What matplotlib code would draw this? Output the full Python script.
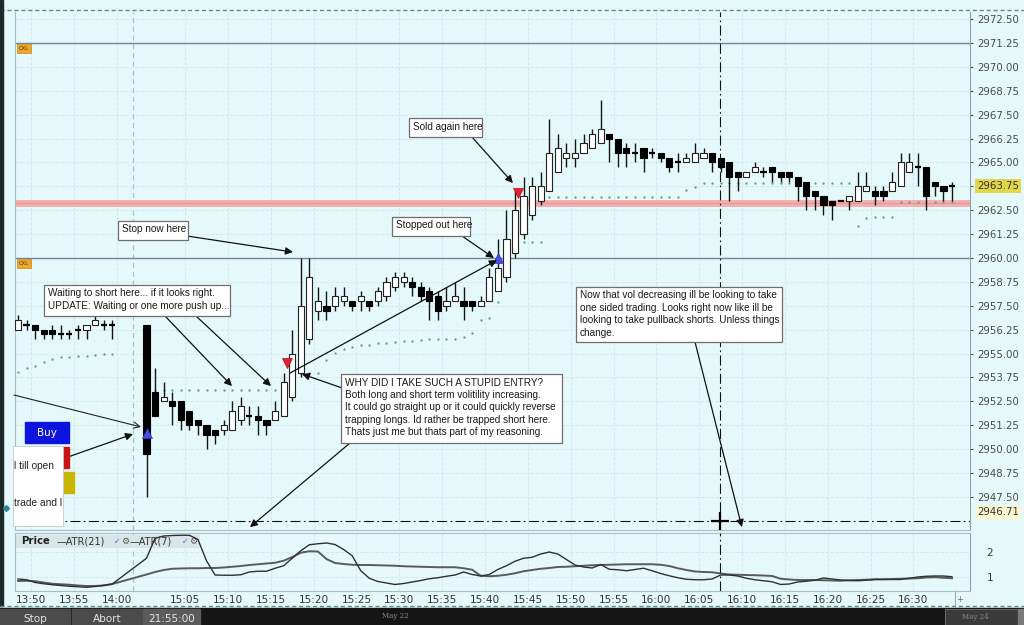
import matplotlib
matplotlib.use("Agg")
import matplotlib.pyplot as plt
from matplotlib.patches import Rectangle
from matplotlib.transforms import blended_transform_factory
import numpy as np

W, H = 1024, 625
BG = "#e5f9fb"
GRID = "#d0e7ea"

# ------------------------------------------------------------------ data
EARLY_TIMES = [f"13:{m:02d}" for m in range(48, 60)]
LATE_TIMES = [f"{15 + m // 60}:{m % 60:02d}" for m in range(95)]
BAR_TIMES = EARLY_TIMES + LATE_TIMES

OPEN = [
    2956.25, 2956.5, 2956.5, 2956.25, 2956.25, 2956.0, 2956.0, 2956.25, 2956.25, 2956.5, 2956.5, 2956.5,
    2956.5, 2953.0, 2952.5, 2952.5, 2952.5, 2952.0, 2951.5, 2951.25, 2951.0, 2951.0,
    2951.0, 2951.5, 2951.75, 2951.75, 2951.5, 2951.5, 2951.75, 2952.75, 2954.0, 2955.75,
    2957.25, 2957.5, 2957.5, 2957.75, 2957.75, 2957.75, 2957.75, 2957.75, 2958.0, 2958.5,
    2958.75, 2958.75, 2958.5, 2958.25, 2958.0, 2957.5, 2957.75, 2957.75, 2957.75, 2957.5,
    2957.75, 2958.25, 2959.0, 2960.25, 2961.25, 2962.25, 2963.0, 2963.5, 2964.5, 2965.25,
    2965.25, 2965.5, 2965.75, 2966.0, 2966.5, 2966.25, 2965.75, 2965.5, 2965.75, 2965.5,
    2965.5, 2965.25, 2965.0, 2965.0, 2965.0, 2965.25, 2965.5, 2965.25, 2965.0, 2964.5,
    2964.25, 2964.5, 2964.5, 2964.75, 2964.5, 2964.5, 2964.25, 2964.0, 2963.5, 2963.25,
    2963.0, 2963.0, 2963.0, 2963.0, 2963.5, 2963.5, 2963.5, 2963.5, 2963.75, 2964.5,
    2964.75, 2964.75, 2964.0, 2963.75, 2963.75,
]
HIGH = [
    2957.0, 2956.75, 2956.5, 2956.25, 2956.5, 2956.5, 2956.25, 2956.5, 2956.5, 2957.0, 2956.75, 2956.75,
    2956.5, 2954.25, 2953.5, 2953.0, 2952.5, 2952.0, 2951.5, 2951.25, 2951.0, 2951.5,
    2952.5, 2952.75, 2952.25, 2952.25, 2951.5, 2952.5, 2954.0, 2956.25, 2960.0, 2960.0,
    2958.5, 2958.25, 2958.5, 2958.5, 2957.75, 2958.25, 2957.75, 2958.5, 2959.0, 2959.25,
    2959.25, 2959.0, 2958.75, 2958.5, 2958.25, 2958.5, 2958.75, 2958.5, 2957.75, 2958.0,
    2959.5, 2961.0, 2962.5, 2963.5, 2964.25, 2964.25, 2964.5, 2967.25, 2966.5, 2966.0,
    2966.25, 2966.5, 2966.75, 2968.25, 2966.5, 2966.25, 2966.0, 2966.0, 2965.75, 2965.75,
    2965.5, 2965.25, 2965.5, 2965.5, 2966.0, 2965.75, 2965.5, 2965.25, 2965.0, 2964.5,
    2964.5, 2965.0, 2964.75, 2964.75, 2964.5, 2964.5, 2964.25, 2964.0, 2963.5, 2963.25,
    2963.0, 2963.0, 2963.25, 2964.5, 2964.5, 2963.75, 2963.75, 2964.5, 2965.5, 2965.5,
    2965.5, 2964.75, 2964.0, 2963.75, 2964.0,
]
LOW = [
    2956.25, 2956.25, 2955.75, 2955.75, 2955.75, 2955.75, 2955.75, 2955.75, 2955.75, 2956.5, 2956.25, 2955.75,
    2947.5, 2951.75, 2952.5, 2951.25, 2951.0, 2951.0, 2950.75, 2950.0, 2950.25, 2950.75,
    2951.0, 2951.25, 2951.25, 2950.75, 2950.75, 2951.5, 2951.75, 2952.5, 2953.75, 2955.5,
    2956.75, 2956.75, 2957.25, 2957.5, 2957.25, 2957.25, 2957.25, 2957.5, 2957.75, 2958.25,
    2958.5, 2958.0, 2957.75, 2956.75, 2956.75, 2957.25, 2957.75, 2956.75, 2957.25, 2957.5,
    2957.75, 2958.25, 2958.75, 2960.0, 2961.0, 2962.0, 2962.75, 2963.5, 2964.5, 2964.75,
    2964.75, 2965.5, 2965.75, 2966.0, 2965.0, 2964.75, 2964.75, 2965.0, 2964.5, 2965.25,
    2965.0, 2964.5, 2964.5, 2965.0, 2965.0, 2965.25, 2964.5, 2964.5, 2963.0, 2963.5,
    2964.25, 2964.5, 2964.25, 2964.0, 2964.0, 2964.0, 2963.0, 2962.5, 2962.5, 2962.25,
    2962.0, 2963.0, 2962.5, 2963.0, 2963.5, 2962.75, 2963.0, 2963.5, 2963.75, 2964.5,
    2963.75, 2962.5, 2963.25, 2963.0, 2963.0,
]
CLOSE = [
    2956.75, 2956.5, 2956.25, 2956.0, 2956.0, 2956.0, 2956.0, 2956.25, 2956.5, 2956.75, 2956.5, 2956.5,
    2949.75, 2951.75, 2952.75, 2952.25, 2951.5, 2951.25, 2951.25, 2950.75, 2950.75, 2951.25,
    2952.0, 2952.25, 2951.75, 2951.5, 2951.25, 2952.0, 2953.5, 2955.0, 2957.5, 2959.0,
    2957.75, 2957.25, 2958.0, 2958.0, 2957.5, 2958.0, 2957.5, 2958.25, 2958.75, 2959.0,
    2959.0, 2958.5, 2958.0, 2957.75, 2957.25, 2957.75, 2958.0, 2957.5, 2957.5, 2957.75,
    2959.0, 2959.5, 2961.0, 2962.5, 2963.25, 2963.75, 2963.75, 2965.5, 2965.75, 2965.5,
    2965.5, 2966.0, 2966.5, 2966.75, 2966.25, 2965.5, 2965.5, 2965.5, 2965.25, 2965.5,
    2965.25, 2964.75, 2965.0, 2965.25, 2965.5, 2965.5, 2965.0, 2964.75, 2964.25, 2964.25,
    2964.5, 2964.75, 2964.5, 2964.5, 2964.25, 2964.25, 2963.75, 2963.25, 2963.25, 2962.75,
    2962.75, 2963.0, 2963.25, 2963.75, 2963.75, 2963.25, 2963.25, 2964.0, 2965.0, 2965.0,
    2964.75, 2963.25, 2963.75, 2963.5, 2963.75,
]
# trailing-stop style dot study (None = no dot)
STOP_DOTS = [
    2954.03, 2954.24, 2954.35, 2954.56, 2954.71, 2954.82, 2954.82, 2954.87, 2954.87, 2954.92, 2954.98, 2954.98,
    None,
    2953.09, 2953.09, 2953.09, 2953.09, 2953.09, 2953.09, 2953.09, 2953.09, 2953.09, 2953.09,
    2953.09, 2953.09, 2953.09, 2953.09, 2953.09, 2953.09, 2953.09,
    2953.98, 2953.98, 2953.98,
    2954.66, 2955.03, 2955.24, 2955.34, 2955.45, 2955.45, 2955.55, 2955.55, 2955.60, 2955.66,
    2955.66, 2955.71, 2955.76, 2955.76, 2955.76, 2955.76, 2955.87, 2956.07, 2956.75, 2956.86,
    2957.70, 2959.21, 2960.52, 2960.84, 2960.84, 2960.84,
    2963.19, 2963.19, 2963.19, 2963.19, 2963.19, 2963.19, 2963.19, 2963.19,
    2963.19, 2963.19, 2963.19, 2963.19, 2963.19, 2963.19, 2963.19, 2963.19,
    2963.56, 2963.71,
    2963.92, 2963.92, 2963.92, 2963.92, 2963.92, 2963.92, 2963.92, 2963.92, 2963.92,
    2963.92, 2963.92, 2963.92, 2963.92, 2963.92, 2963.92, 2963.92, 2963.92, 2963.92,
    2961.67, 2962.09,
    2962.15, 2962.15, 2962.15,
    2962.93, 2962.93, 2962.93, 2962.93, 2962.93, 2962.93, 2962.93,
]
ATR21 = [
    0.84, 0.85, 0.83, 0.78, 0.73, 0.71, 0.69, 0.66, 0.64, 0.64, 0.66, 0.72,
    1.10, 1.20, 1.28, 1.33, 1.34, 1.35, 1.35, 1.36, 1.36, 1.38,
    1.41, 1.44, 1.48, 1.51, 1.54, 1.57, 1.65, 1.80, 1.97, 2.03,
    2.02, 1.72, 1.56, 1.52, 1.49, 1.48, 1.48, 1.47, 1.46, 1.45,
    1.43, 1.42, 1.41, 1.40, 1.39, 1.39, 1.39, 1.35, 1.29, 1.05,
    1.03, 1.05, 1.09, 1.15, 1.23, 1.28, 1.33, 1.36, 1.40, 1.41,
    1.43, 1.45, 1.47, 1.48, 1.49, 1.50, 1.51, 1.51, 1.51, 1.51,
    1.49, 1.44, 1.35, 1.28, 1.22, 1.20, 1.19, 1.14, 1.10, 1.09,
    1.08, 1.07, 1.06, 1.04, 0.93, 0.90, 0.88, 0.88, 0.88, 0.87,
    0.86, 0.85, 0.87, 0.88, 0.89, 0.91, 0.91, 0.92, 0.93, 0.94,
    0.95, 0.98, 0.99, 0.97, 0.95,
]
ATR7 = [
    0.92, 0.89, 0.78, 0.73, 0.69, 0.66, 0.63, 0.61, 0.59, 0.62, 0.67, 0.72,
    1.75, 2.55, 2.64, 2.66, 2.67, 2.67, 2.50, 1.65, 1.08, 1.07,
    1.07, 1.09, 1.20, 1.23, 1.23, 1.35, 1.45, 1.75, 2.05, 2.29,
    2.33, 2.36, 2.30, 2.10, 1.85, 1.25, 0.95, 0.82, 0.76, 0.70,
    0.74, 0.80, 0.86, 0.93, 0.97, 1.03, 1.08, 1.20, 1.10, 1.04,
    1.10, 1.30, 1.45, 1.63, 1.75, 1.79, 1.92, 2.00, 1.92, 1.70,
    1.48, 1.40, 1.36, 1.50, 1.31, 1.29, 1.25, 1.30, 1.35, 1.25,
    1.14, 1.05, 0.97, 0.91, 0.89, 0.89, 0.92, 1.08, 1.08, 1.04,
    0.95, 0.89, 0.85, 0.81, 0.70, 0.72, 0.80, 0.83, 0.87, 0.96,
    0.92, 0.88, 0.86, 0.85, 0.87, 0.90, 0.90, 0.90, 0.90, 0.95,
    1.00, 1.03, 1.04, 1.04, 1.01,
]
N = len(BAR_TIMES)
for arr in (OPEN, HIGH, LOW, CLOSE, STOP_DOTS, ATR21, ATR7):
    assert len(arr) == N, len(arr)

TICK_LABELS = ["13:50", "13:55", "14:00"] + [f"{15 + m // 60}:{m % 60:02d}" for m in range(5, 95, 5)]
PRICE_TICKS = np.arange(2947.5, 2972.51, 1.25)
CXL_LEVELS = [2971.25, 2960.00]
ALERT_LEVEL = 2962.9
SESSION_BREAK_TIME = "14:01:24"
CROSSHAIR_TIME = "16:06:54"
CROSSHAIR_PRICE = 2946.25
CROSSHAIR_READOUT = 2946.71
ORDER_TIMES = ["15:00:00", "15:16:24", "15:41:00", "15:43:18"]
ORDER_PRICES = [2950.85, 2954.5, 2960.0, 2963.4]
ORDER_SIDES = ["buy", "sell", "buy", "sell"]


def slot_of(t):
    p = [int(v) for v in t.split(":")]
    mins = p[0] * 60 + p[1] + (p[2] / 60 if len(p) > 2 else 0)
    if mins < 15 * 60:
        return mins - (13 * 60 + 48)
    return 15 + (mins - 15 * 60)


slots = np.array([slot_of(t) for t in BAR_TIMES])
tick_pos = [slot_of(t) - 0.5 for t in TICK_LABELS]

# ------------------------------------------------------------------ figure
plt.rcParams["font.family"] = ["DejaVu Sans"]
fig = plt.figure(figsize=(W / 100, H / 100), dpi=100, facecolor=BG)


def fx(x):
    return x / W


def fy(y):
    return 1 - y / H


ax = fig.add_axes([fx(15), fy(530), (970 - 15) / W, (530 - 12) / H])
ax2 = fig.add_axes([fx(15), fy(591), (970 - 15) / W, (591 - 533) / H], sharex=ax)
ov = fig.add_axes([0, 0, 1, 1], zorder=5)
ov.set_xlim(0, W)
ov.set_ylim(H, 0)
ov.axis("off")
ov.patch.set_alpha(0)

for a in (ax, ax2):
    a.set_facecolor(BG)
    for sp in a.spines.values():
        sp.set_color("#a9bfc4")
        sp.set_linewidth(0.8)
ax.spines["top"].set_visible(False)
ax.spines["right"].set_color("#8da3a9")
ax2.spines["right"].set_color("#8da3a9")

ax.set_xlim(-0.35, 111.1)
ax.set_ylim(2945.77, 2972.87)
ax.set_xticks(tick_pos)
ax.tick_params(axis="x", labelbottom=False, length=0)
ax.set_yticks(PRICE_TICKS)
ax.set_yticklabels(["" if abs(v - CLOSE[-1]) < 1e-6 else f"{v:.2f}" for v in PRICE_TICKS])
ax.yaxis.tick_right()
ax.tick_params(axis="y", labelsize=7.3, colors="#4a4a4a", length=2, pad=3)
ax.grid(True, color=GRID, lw=0.6, ls=(0, (4, 2)), zorder=0)
ax.set_axisbelow(True)

# session separator
brk = slot_of(SESSION_BREAK_TIME)
for a in (ax, ax2):
    a.axvline(brk, color="#a7c3c9", lw=0.9, ls=(0, (4, 3)), zorder=1)

# horizontal price levels
for lv in CXL_LEVELS:
    ax.axhline(lv, color="#6f8796", lw=1.0, zorder=2)
    ax.annotate("CXL", xy=(0, lv), xycoords=blended_transform_factory(ax.transAxes, ax.transData),
                xytext=(4, -3), textcoords="offset pixels", ha="left", va="top", fontsize=3.8,
                color="#5a3a00", bbox=dict(boxstyle="square,pad=0.3", fc="#eea72e", ec="#c8891c", lw=0.5),
                zorder=6)
ax.axhline(ALERT_LEVEL, color="#f3b0b0", lw=5, zorder=2)
ax.axhline(ALERT_LEVEL, color="#ec9696", lw=1.0, zorder=2)

# stop dots
dots = np.array([np.nan if v is None else v for v in STOP_DOTS], dtype=float)
ax.plot(slots, dots, ls="none", marker="o", ms=1.7, color="#64a08a", mew=0, zorder=3)

# candles
BW = 0.72
for s, o, h, l, c in zip(slots, OPEN, HIGH, LOW, CLOSE):
    ax.vlines(s, l, h, color="#151515", lw=1.0, zorder=4)
    if c > o:
        ax.bar(s, c - o, bottom=o, width=BW, facecolor="white", edgecolor="#222222", lw=0.8, zorder=5)
    elif c < o:
        ax.bar(s, o - c, bottom=c, width=BW, facecolor="black", edgecolor="black", lw=0.8, zorder=5)
    else:
        ax.hlines(o, s - BW / 2, s + BW / 2, color="black", lw=1.6, zorder=5)

# order markers
for t, p, side in zip(ORDER_TIMES, ORDER_PRICES, ORDER_SIDES):
    if side == "buy":
        ax.plot(slot_of(t), p, marker="^", ms=7, color="#4a4ae6", mec="#3535c0", mew=0.5, zorder=7)
    else:
        ax.plot(slot_of(t), p, marker="v", ms=7, color="#e5202a", mec="#b01018", mew=0.5, zorder=7)

# crosshair
cx = slot_of(CROSSHAIR_TIME)
DASHDOT = (0, (9, 3, 1.5, 3))
ax.axhline(CROSSHAIR_PRICE, color="#111", lw=0.8, ls=DASHDOT, zorder=6)
for a in (ax, ax2):
    a.axvline(cx, color="#111", lw=0.8, ls=DASHDOT, zorder=6)
ax.plot(cx, CROSSHAIR_PRICE, marker="+", ms=13, mew=1.6, color="black", zorder=8)

# right axis highlighted readouts
bt = blended_transform_factory(ax.transAxes, ax.transData)
ax.text(1.0073, CLOSE[-1], f"{CLOSE[-1]:.2f}", transform=bt, ha="left", va="center", fontsize=7.3,
        color="#333", bbox=dict(boxstyle="square,pad=0.2", fc="#e2d64a", ec="none"), clip_on=False, zorder=9)
ax.text(1.0073, CROSSHAIR_READOUT, f"{CROSSHAIR_READOUT:.2f}", transform=bt, ha="left", va="center",
        fontsize=7.3, color="#333", bbox=dict(boxstyle="square,pad=0.2", fc="#fbf6cf", ec="none"),
        clip_on=False, zorder=9)

# ------------------------------------------------------------------ ATR panel
ax2.set_ylim(0.44, 2.76)
ax2.plot(slots, ATR21, color="#5a5a5a", lw=1.4, zorder=3)
ax2.plot(slots, ATR7, color="#303030", lw=1.0, zorder=3)
ax2.set_yticks([1, 2])
ax2.yaxis.tick_right()
ax2.tick_params(axis="y", labelsize=7.5, colors="#333", length=0, pad=12)
ax2.set_xticks(tick_pos)
ax2.set_xticklabels(TICK_LABELS)
ax2.tick_params(axis="x", labelsize=7.6, colors="#333", length=0, pad=3)
ax2.grid(True, color=GRID, lw=0.6, ls=(0, (4, 2)), zorder=0)
ax2.set_axisbelow(True)

# legend strip of the ATR panel (behind the lines)
ax2.add_patch(Rectangle((15, 535), 185, 13, transform=ov.transData, facecolor="#d9e6e8",
                        edgecolor="none", zorder=1, clip_on=False))
leg = [(21, "Price", "#222", "bold", 7.3), (57, "\u2014ATR(21)", "#333", "normal", 7.0),
       (114, "\u2713", "#3a6fd0", "normal", 5.5), (121, "\u2699", "#555", "normal", 6.5),
       (130, "\u2014ATR(7)", "#333", "normal", 7.0), (182, "\u2713", "#3a6fd0", "normal", 5.5),
       (189, "\u2699", "#555", "normal", 6.5)]
for x0, s, col, wt, fs in leg:
    ax2.text(x0, 541.5, s, transform=ov.transData, ha="left", va="center", fontsize=fs, color=col,
             fontweight=wt, zorder=2, clip_on=False)

# ------------------------------------------------------------------ annotations
NOTE_FONT = ["Liberation Sans", "DejaVu Sans"]
NOTES = [
    (44, 285, 230, 316, "Waiting to short here... if it looks right.\nUPDATE: Waiting or one more push up..."),
    (118, 221, 188, 240, "Stop now here"),
    (392, 217, 470, 236, "Stopped out here"),
    (409, 118, 482, 137, "Sold again here"),
    (341, 374, 562, 443, "WHY DID I TAKE SUCH A STUPID ENTRY?\nBoth long and short term volitility increasing.\n"
                         "It could go straight up or it could quickly reverse\ntrapping longs. Id rather be trapped short here.\n"
                         "Thats just me but thats part of my reasoning."),
    (576, 287, 782, 342, "Now that vol decreasing ill be looking to take\none sided trading. Looks right now like ill be\n"
                         "looking to take pullback shorts. Unless things\nchange."),
]
for x0, y0, x1, y1, txt in NOTES:
    ov.add_patch(Rectangle((x0, y0), x1 - x0, y1 - y0, facecolor="white", edgecolor="#6e6e6e", lw=0.9, zorder=6))
    ov.text(x0 + 4, y0 + 3.5, txt, ha="left", va="top", fontsize=7.2, family=NOTE_FONT, color="#1a1a1a",
            linespacing=1.3, zorder=7)

ARROW = dict(arrowstyle="-|>", color="#111", lw=0.9, mutation_scale=11, shrinkA=0, shrinkB=0)
ARROWS_FROM_NOTES = [  # (tail pixel in note), (head in data)
    ((165, 316), (24.97, 2953.30)),
    ((196, 316), (29.52, 2953.30)),
    ((187, 236), (32.09, 2960.31)),
    ((462, 236), (55.54, 2960.00)),
    ((472, 137), (57.76, 2963.92)),
    ((345, 389), (33.14, 2953.93)),
    ((350, 443), (27.07, 2945.92)),
    ((695, 342), (84.48, 2945.92)),
    ((68, 457), (13.42, 2950.79)),
]
for tail, head in ARROWS_FROM_NOTES:
    ax.annotate("", xy=head, xycoords="data", xytext=tail, textcoords=ov.transData, arrowprops=ARROW,
                annotation_clip=False, zorder=8)
ax.annotate("", xy=(14.35, 2951.16), xycoords="data", xytext=(14, 395), textcoords=ov.transData,
            arrowprops=dict(arrowstyle="->", color="#222", lw=0.8, mutation_scale=11, shrinkA=0, shrinkB=0),
            annotation_clip=False, zorder=8)
ax.annotate("", xy=(55.89, 2959.89), xycoords="data", xytext=(31.74, 2953.98), textcoords="data",
            arrowprops=ARROW, annotation_clip=False, zorder=8)

# ------------------------------------------------------------------ UI chrome
ov.plot([0, W], [10, 10], color="#5f8f78", lw=1.0, ls=(0, (3, 2)), zorder=4)
ov.add_patch(Rectangle((0, 0), 3, 606, color="#1e2a2a", zorder=4))
# left order buttons
ov.add_patch(Rectangle((61, 447), 8, 21, color="#c81414", zorder=5))
ov.add_patch(Rectangle((61, 472), 13, 21, color="#c9b400", zorder=5))
ov.add_patch(Rectangle((25, 422), 44, 21, color="#0c14de", zorder=5))
ov.text(47, 433, "Buy", ha="center", va="center", fontsize=7.5, color="white", zorder=6)
ov.add_patch(Rectangle((13, 446), 50, 80, facecolor="white", edgecolor="#c8c8c8", lw=0.6, zorder=6))
ov.text(14, 466, "l till open", ha="left", va="center", fontsize=7.3, family=NOTE_FONT, color="#222", zorder=7)
ov.text(14, 503, "trade and l", ha="left", va="center", fontsize=7.3, family=NOTE_FONT, color="#222", zorder=7)
ov.plot(6, 508, marker="D", ms=3, color="#2a8a9a", zorder=7)
# time-axis end marker
ov.plot([955, 955], [591, 606], color="#9ab0b5", lw=0.8, zorder=4)
ov.text(960, 600, "+", ha="center", va="center", fontsize=6, color="#667", zorder=4)
# bottom toolbar
ov.plot([0, W], [606, 606], color="#5f8f78", lw=1.0, ls=(0, (3, 2)), zorder=4)
ov.add_patch(Rectangle((0, 607.5), W, 17.5, color="#151515", zorder=4))
for x0, w, col, label in [(0, 70, "#4b4b4b", "Stop"), (72, 70, "#4b4b4b", "Abort"), (143, 57, "#5b5b5b", "21:55:00")]:
    ov.add_patch(Rectangle((x0, 608.5), w, 16.5, color=col, zorder=5))
    ov.text(x0 + w / 2, 619.5, label, ha="center", va="center", fontsize=7.5, color="#e6e6e6", zorder=6)
ov.text(395, 616, "May 22", ha="center", va="center", fontsize=5, color="#8a8a8a", family="DejaVu Serif", zorder=6)
ov.add_patch(Rectangle((945, 608.5), 73, 16.5, facecolor="#3a3a3a", edgecolor="#777", lw=0.6, zorder=5))
ov.text(975, 617, "May 24", ha="center", va="center", fontsize=5, color="#8a8a8a", family="DejaVu Serif", zorder=6)
ov.add_patch(Rectangle((1018, 608.5), 6, 16.5, color="#7a7a7a", zorder=5))

fig.savefig("out.png", dpi=100, facecolor=BG)
